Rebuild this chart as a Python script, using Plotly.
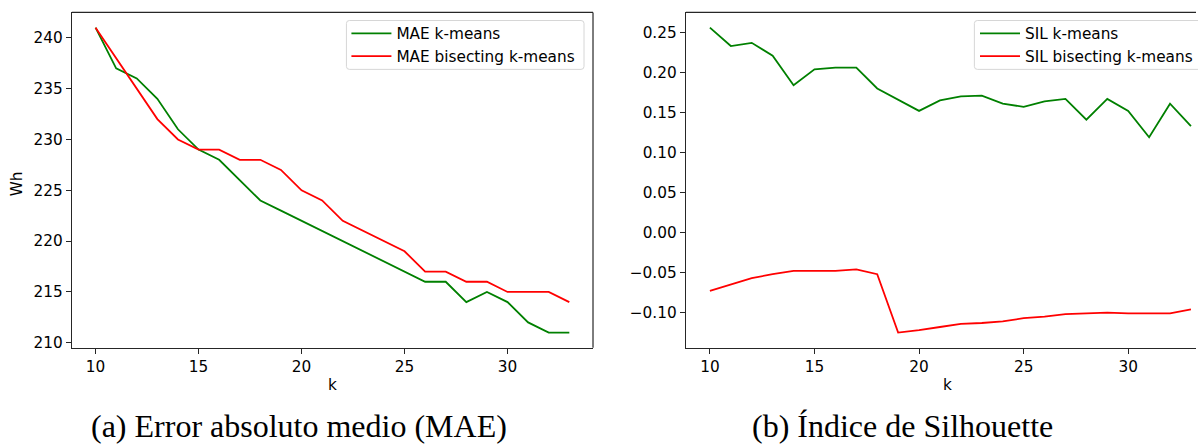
import plotly.graph_objects as go

# Number of clusters evaluated
k_values = list(range(10, 34))

# Mean absolute error (Wh) per k
mae_kmeans = [241, 237, 236, 234, 231, 229, 228, 226, 224, 223, 222, 221,
              220, 219, 218, 217, 216, 216, 214, 215, 214, 212, 211, 211]
mae_bisecting = [241, 238, 235, 232, 230, 229, 229, 228, 228, 227, 225, 224,
                 222, 221, 220, 219, 217, 217, 216, 216, 215, 215, 215, 214]

# Silhouette index per k
sil_kmeans = [0.256, 0.233, 0.237, 0.221, 0.184, 0.204, 0.206, 0.206, 0.180,
              0.166, 0.152, 0.165, 0.170, 0.171, 0.161, 0.157, 0.164, 0.167,
              0.141, 0.167, 0.152, 0.119, 0.161, 0.133]
sil_bisecting = [-0.073, -0.065, -0.057, -0.052, -0.048, -0.048, -0.048, -0.046,
                 -0.052, -0.125, -0.122, -0.118, -0.114, -0.113, -0.111, -0.107,
                 -0.105, -0.102, -0.101, -0.100, -0.101, -0.101, -0.101, -0.096]

mae_ticks = [210, 215, 220, 225, 230, 235, 240]
sil_ticks = [-0.10, -0.05, 0.00, 0.05, 0.10, 0.15, 0.20, 0.25]
k_ticks = [10, 15, 20, 25, 30]

W, H = 1198, 445
GREEN, RED = "#008000", "#ff0000"
FS = 15.3
TICK_FONT = dict(family="DejaVu Sans", size=FS, color="#000000")

# pixel geometry of the two panels
L1, R1 = 72, 594
L2, R2 = 687, 1198
TOP, BOT = 12.5, 351
ydom = [(H - BOT) / H, (H - TOP) / H]

LW = 1.8
fig = go.Figure()
fig.add_trace(go.Scatter(x=k_values, y=mae_kmeans, mode="lines", name="MAE k-means",
                         line=dict(color=GREEN, width=LW), xaxis="x", yaxis="y", legend="legend"))
fig.add_trace(go.Scatter(x=k_values, y=mae_bisecting, mode="lines", name="MAE bisecting k-means",
                         line=dict(color=RED, width=LW), xaxis="x", yaxis="y", legend="legend"))
fig.add_trace(go.Scatter(x=k_values, y=sil_kmeans, mode="lines", name="SIL k-means",
                         line=dict(color=GREEN, width=LW), xaxis="x2", yaxis="y2", legend="legend2"))
fig.add_trace(go.Scatter(x=k_values, y=sil_bisecting, mode="lines", name="SIL bisecting k-means",
                         line=dict(color=RED, width=LW), xaxis="x2", yaxis="y2", legend="legend2"))

axis_common = dict(showgrid=False, zeroline=False, showline=True, linecolor="#262626",
                   linewidth=1.2, ticks="outside", ticklen=5, tickwidth=1.2, tickcolor="#262626",
                   tickfont=TICK_FONT)

span = max(k_values) - min(k_values)
x_lo = min(k_values) - 0.05 * span
px_per_k1 = (R1 - L1) / (1.1 * span)
px_per_k2 = 20.95

mae_all = mae_kmeans + mae_bisecting
mae_span = max(mae_all) - min(mae_all)
sil_all = sil_kmeans + sil_bisecting
sil_span = max(sil_all) - min(sil_all)

# legend entries sit on a transparent legend; the frame is drawn as a shape
legend_style = dict(xanchor="left", yanchor="top", bgcolor="rgba(0,0,0,0)", borderwidth=0,
                    font=dict(family="DejaVu Sans", size=FS, color="#000000"),
                    itemwidth=40, tracegroupgap=0)

LEG1 = (347, 585, 20.7, 70)
LEG2 = (976, 1215, 20.7, 70)

fig.update_layout(
    width=W, height=H,
    margin=dict(l=0, r=0, t=0, b=0),
    paper_bgcolor="white", plot_bgcolor="white",
    xaxis=dict(domain=[L1 / W, R1 / W], anchor="y",
               range=[x_lo, x_lo + (R1 - L1) / px_per_k1],
               tickvals=k_ticks, **axis_common),
    yaxis=dict(domain=ydom, anchor="x",
               range=[min(mae_all) - 0.05 * mae_span, max(mae_all) + 0.05 * mae_span],
               tickvals=mae_ticks, **axis_common),
    xaxis2=dict(domain=[L2 / W, 1.0], anchor="y2",
                range=[x_lo, x_lo + (R2 - L2) / px_per_k2],
                tickvals=k_ticks, **axis_common),
    yaxis2=dict(domain=ydom, anchor="x2",
                range=[min(sil_all) - 0.05 * sil_span, max(sil_all) + 0.05 * sil_span],
                tickvals=sil_ticks, tickformat=".2f", **axis_common),
    legend=dict(x=LEG1[0] / W, y=(H - 17) / H, **legend_style),
    legend2=dict(x=(LEG2[0] + 1) / W, y=(H - 17) / H, **legend_style),
    showlegend=True,
)


def rounded_box(x0, x1, y0, y1, r=3):
    # rounded rectangle path in paper coordinates (pixel input)
    def px(x):
        return x / W

    def py(y):
        return (H - y) / H

    return (f"M{px(x0 + r)},{py(y0)} L{px(x1 - r)},{py(y0)} Q{px(x1)},{py(y0)} {px(x1)},{py(y0 + r)} "
            f"L{px(x1)},{py(y1 - r)} Q{px(x1)},{py(y1)} {px(x1 - r)},{py(y1)} "
            f"L{px(x0 + r)},{py(y1)} Q{px(x0)},{py(y1)} {px(x0)},{py(y1 - r)} "
            f"L{px(x0)},{py(y0 + r)} Q{px(x0)},{py(y0)} {px(x0 + r)},{py(y0)} Z")


for box in (LEG1, LEG2):
    fig.add_shape(type="path", xref="paper", yref="paper", path=rounded_box(*box),
                  fillcolor="rgba(255,255,255,0.8)", line=dict(color="#d6d6d6", width=1),
                  layer="above")

# top and right frame lines
frame = dict(color="#262626", width=1.2)
fig.add_shape(type="line", xref="x domain", yref="y domain", x0=0, x1=1, y0=1, y1=1, line=frame)
fig.add_shape(type="line", xref="x domain", yref="y domain", x0=1, x1=1, y0=0, y1=1, line=frame)
fig.add_shape(type="line", xref="x2 domain", yref="y2 domain", x0=0, x1=1, y0=1, y1=1, line=frame)

label_font = dict(family="DejaVu Sans", size=FS, color="#000000")
caption_font = dict(family="Liberation Serif", size=32, color="#000000")


def paper_text(text, px, py, font, angle=0):
    fig.add_annotation(text=text, textangle=angle, x=px / W, y=(H - py) / H,
                       xref="paper", yref="paper", xanchor="center", yanchor="middle",
                       showarrow=False, font=font)


paper_text("Wh", 17, 185, label_font, angle=-90)
paper_text("k", (L1 + R1) / 2, 388, label_font)
paper_text("k", 949, 388, label_font)
paper_text("(a) Error absoluto medio (MAE)", 299, 430, caption_font)
paper_text("(b) Índice de Silhouette", 904, 430, caption_font)

fig.write_html("out.html")
